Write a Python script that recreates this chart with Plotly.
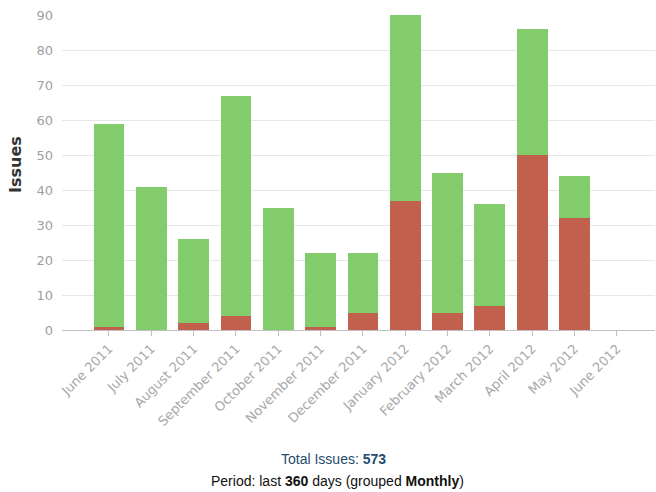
import plotly.graph_objects as go

months = ["June 2011", "July 2011", "August 2011", "September 2011", "October 2011",
          "November 2011", "December 2011", "January 2012", "February 2012",
          "March 2012", "April 2012", "May 2012", "June 2012"]
closed_red = [1, 0, 2, 4, 0, 1, 5, 37, 5, 7, 50, 32, 0]
open_green = [58, 41, 24, 63, 35, 21, 17, 53, 40, 29, 36, 12, 0]
y_ticks = [0, 10, 20, 30, 40, 50, 60, 70, 80, 90]

total = sum(closed_red) + sum(open_green)

fig = go.Figure()
fig.add_trace(go.Bar(x=months, y=closed_red, marker_color="#C1604C", name="Red",
                     marker_line_width=0))
fig.add_trace(go.Bar(x=months, y=open_green, marker_color="#82CC6C", name="Green",
                     marker_line_width=0))

fig.update_layout(
    barmode="stack",
    bargap=0.27,
    width=656, height=492,
    margin=dict(l=62, r=1, t=15, b=162),
    plot_bgcolor="white", paper_bgcolor="white",
    showlegend=False,
    font=dict(family="DejaVu Sans", size=12, color="#999999"),
    xaxis=dict(
        type="category",
        range=[-1.11, 12.9],
        tickangle=-45,
        ticks="outside", ticklen=5, tickcolor="#C0C0C0",
        showline=True, linecolor="#C0C0C0", linewidth=1,
        showgrid=False,
        tickfont=dict(family="DejaVu Sans", size=13, color="#A8A8A8"),
    ),
    yaxis=dict(
        range=[0, 90],
        tickvals=y_ticks,
        showgrid=True, gridcolor="#E6E6E6", gridwidth=1,
        zeroline=False,
        tickfont=dict(family="DejaVu Sans", size=13, color="#A0A0A0"),
        ticklabelstandoff=8,
    ),
    annotations=[
        dict(text="<b>Issues</b>", textangle=-90, xref="paper", yref="paper",
             x=(15 - 62) / 593, y=(330 - 165) / 315, xanchor="center", yanchor="middle",
             showarrow=False, font=dict(family="DejaVu Sans", size=16, color="#333333")),
        dict(text=f"Total Issues: <b>{total}</b>", xref="paper", yref="paper",
             x=(333 - 62) / 593, y=-(459 - 330) / 315, xanchor="center", yanchor="middle",
             showarrow=False, font=dict(family="Liberation Sans", size=14, color="#274B6D")),
        dict(text="Period: last <b>360</b> days (grouped <b>Monthly</b>)", xref="paper", yref="paper",
             x=(337 - 62) / 593, y=-(481 - 330) / 315, xanchor="center", yanchor="middle",
             showarrow=False, font=dict(family="Liberation Sans", size=14, color="#111111")),
    ],
)

fig.write_html("out.html")
